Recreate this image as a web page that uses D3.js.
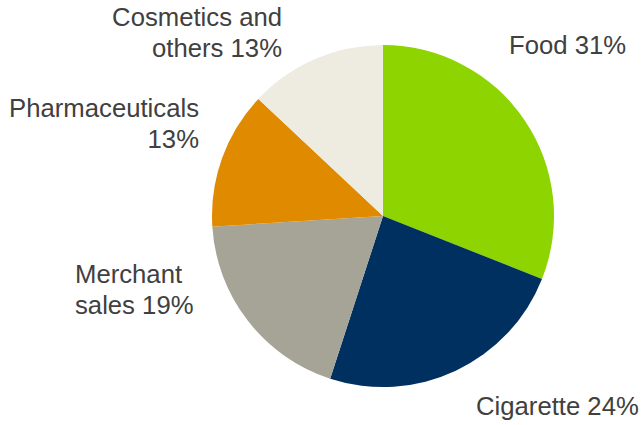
<!DOCTYPE html>
<html>
<head>
<meta charset="utf-8">
<script src="https://cdn.jsdelivr.net/npm/d3@7"></script>
<style>
  html, body { margin: 0; padding: 0; background: #ffffff; }
  svg { display: block; }
</style>
</head>
<body>
<svg id="chart" width="642" height="425"></svg>
<script>
// Revenue share by category (percent), clockwise from 12 o'clock
const categories = ["Food", "Cigarette", "Merchant sales", "Pharmaceuticals", "Cosmetics and others"];
const shares = [31, 24, 19, 13, 13];
const colors = ["#8ed400", "#00305f", "#a5a497", "#e08a00", "#eeebe1"];
// Label lines for each slice
const labelLines = [
  ["Food 31%"],
  ["Cigarette 24%"],
  ["Merchant", "sales 19%"],
  ["Pharmaceuticals", "13%"],
  ["Cosmetics and", "others 13%"]
];

const svg = d3.select("#chart");
const cx = 383, cy = 216, r = 171;

const pie = d3.pie().sort(null).value(d => d)(shares);
const arc = d3.arc().innerRadius(0).outerRadius(r);
const color = d3.scaleOrdinal().domain(categories).range(colors);

const g = svg.append("g").attr("transform", `translate(${cx},${cy})`);
g.selectAll("path")
  .data(pie)
  .join("path")
  .attr("d", arc)
  .attr("fill", (d, i) => color(categories[i]));

// Label placement: anchor point and alignment per slice
const labelLayout = [
  { x: 509, y: 54, anchor: "start" },
  { x: 476, y: 415, anchor: "start" },
  { x: 75, y: 283, anchor: "start" },
  { x: 199, y: 117, anchor: "end" },
  { x: 282, y: 26, anchor: "end" }
];
const lineHeight = 31;

labelLines.forEach((lines, i) => {
  const p = labelLayout[i];
  const t = svg.append("text")
    .attr("x", p.x)
    .attr("y", p.y)
    .attr("text-anchor", p.anchor)
    .attr("font-family", "'Liberation Sans', Arial, sans-serif")
    .attr("font-size", 25.7)
    .attr("fill", "#404040");
  lines.forEach((line, j) => {
    t.append("tspan")
      .attr("x", p.x)
      .attr("y", p.y + j * lineHeight)
      .text(line);
  });
});
</script>
</body>
</html>
